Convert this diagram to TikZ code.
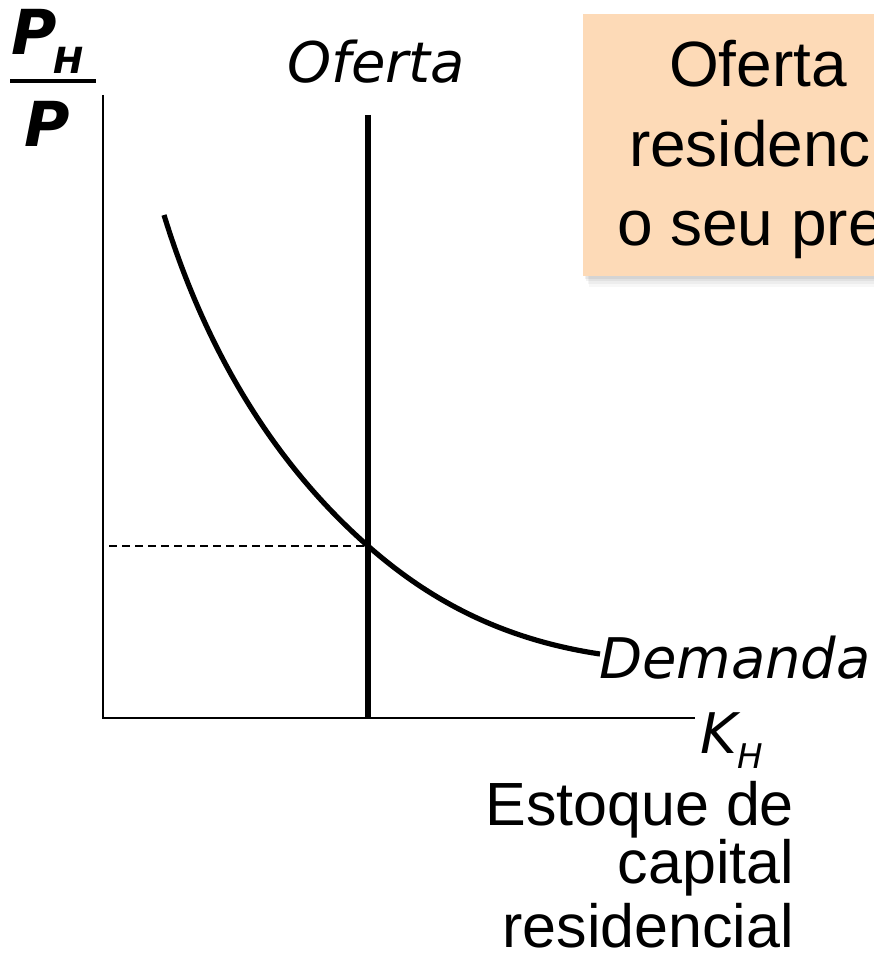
\documentclass[tikz,border=0pt]{standalone}
\usepackage{fontspec}
\setmainfont{Liberation Sans}
\newfontfamily\verd{DejaVu Sans}
\definecolor{peach}{HTML}{FDDAB7}
\begin{document}
\begin{tikzpicture}[x=1pt,y=-1pt,
  lbl/.style={inner sep=0pt,outer sep=0pt},
  axisline/.style={line width=2.6pt},
  thickline/.style={line width=5.2pt},
  dashline/.style={line width=1.8pt,dash pattern=on 8pt off 5pt},
  boxtext/.style={lbl,anchor=base west,font=\fontsize{64}{79}\selectfont},
  axtext/.style={lbl,anchor=base east,font=\fontsize{61}{62}\selectfont},
  italtext/.style={lbl,font=\verd\itshape\fontsize{56}{60}\selectfont}]
\useasboundingbox (0,0) rectangle (874,960);
\clip (0,0) rectangle (874,960);
% box with shadow
\foreach \i/\o in {12/0.03,9/0.04,6/0.05,3/0.06}{
  \fill[black,opacity=\o] (583+\i*0.5,14+\i) rectangle (940+\i,276+\i*0.9);
}
\fill[peach] (583,14) rectangle (940,276);
\node[boxtext] (b1) at (669,87) {Oferta};
\node[boxtext] (b2) at (629,167) {residencial};
\node[boxtext] (b3) at (617,245) {o seu preço};
% axes
\coordinate (o) at (103,718);
\coordinate (ytop) at (103,95);
\coordinate (xend) at (695,718);
\draw[axisline] (ytop) -- (o) -- (xend);
% supply
\coordinate (stop) at (368,115);
\coordinate (sbot) at (368,718);
\draw[thickline] (stop) -- (sbot);
% equilibrium dashed
\coordinate (eq) at (368,546);
\coordinate (dl) at (109,546);
\draw[dashline] (dl) -- (eq);
% demand
\coordinate (dstart) at (164,215);
\coordinate (dend) at (600,654);
\draw[thickline] (dstart) .. controls (212,371) and (288,475.6) .. (eq)
  .. controls (428,598.8) and (500,639) .. (dend);
% labels
\node[italtext,anchor=base] (of) at (376,83) {Oferta};
\node[italtext,anchor=base west] (dem) at (599,678) {Demanda};
\node[italtext,anchor=base west] (kh) at (700,753) {K};
\node[lbl,anchor=base west,font=\verd\itshape\fontsize{34}{34}\selectfont] (khs) at (737,768) {H};
\node[axtext] (e1) at (794,825) {Estoque de};
\node[axtext] (e2) at (794,883) {capital};
\node[axtext] (e3) at (794,947) {residencial};
% P_H / P
\node[lbl,anchor=base west,font=\verd\bfseries\itshape\fontsize{62}{62}\selectfont] (ph) at (12,55) {P};
\node[lbl,anchor=base west,font=\verd\bfseries\itshape\fontsize{36}{36}\selectfont] (phs) at (53,74) {H};
\coordinate (barl) at (10,81);
\coordinate (barr) at (96,81);
\draw[line width=4pt] (barl) -- (barr);
\node[lbl,anchor=base west,font=\verd\bfseries\itshape\fontsize{62}{62}\selectfont] (pd) at (24,147) {P};
\end{tikzpicture}
\end{document}
